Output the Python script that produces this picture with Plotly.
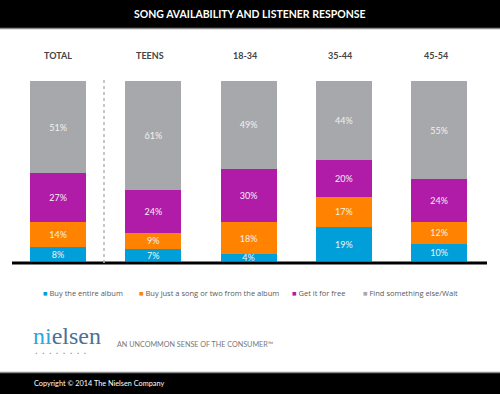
import plotly.graph_objects as go

categories = ["TOTAL", "TEENS", "18-34", "35-44", "45-54"]
buy_album = [8, 7, 4, 19, 10]
buy_song = [14, 9, 18, 17, 12]
get_free = [27, 24, 30, 20, 24]
find_else = [51, 61, 49, 44, 55]

series_names = ["Buy the entire album", "Buy just a song or two from the album",
                "Get it for free", "Find something else/Wait"]
series_values = [buy_album, buy_song, get_free, find_else]
colors = ["#009fd9", "#ff8300", "#b01ba8", "#a7a8ab"]

title = "SONG AVAILABILITY AND LISTENER RESPONSE"

W, H = 500, 394


def py(px):
    return (H - px) / H


fig = go.Figure()
for name, vals, col in zip(series_names, series_values, colors):
    fig.add_trace(go.Bar(
        x=categories, y=vals, name=name,
        marker=dict(color=col, line=dict(width=0)),
        width=0.588,
        text=[f"{v}%" for v in vals],
        textposition="inside", insidetextanchor="middle",
        constraintext="none",
        textfont=dict(family="Lato", size=9, color="#f2f2f2"),
        showlegend=False, hoverinfo="skip",
    ))

shapes = [
    # title bar
    dict(type="rect", xref="paper", yref="paper", x0=0, x1=1, y0=py(28), y1=1,
         fillcolor="#000000", line=dict(width=0), layer="below"),
    dict(type="line", xref="paper", yref="paper", x0=0, x1=1, y0=py(28.5), y1=py(28.5),
         line=dict(color="#8a8a8a", width=1.5)),
    # footer bar
    dict(type="rect", xref="paper", yref="paper", x0=0, x1=1, y0=0, y1=py(372.5),
         fillcolor="#000000", line=dict(width=0), layer="below"),
    dict(type="line", xref="paper", yref="paper", x0=0, x1=1, y0=py(372.5), y1=py(372.5),
         line=dict(color="#8a8a8a", width=1.5)),
    # baseline
    dict(type="line", xref="paper", yref="paper", x0=12 / W, x1=487 / W, y0=py(263), y1=py(263),
         line=dict(color="#000000", width=3)),
    # dotted separator
    dict(type="line", xref="paper", yref="paper", x0=104 / W, x1=104 / W, y0=py(263), y1=py(78),
         line=dict(color="#b5b5b5", width=1.5, dash="dot")),
]

annotations = [
    dict(text=f"<b>{title}</b>", xref="paper", yref="paper", x=0.5, y=py(14),
         showarrow=False, font=dict(family="Lato", size=10.5, color="#ffffff"),
         xanchor="center", yanchor="middle"),
]

label_centers = [58, 150, 244.5, 340, 436]
for cat, cx in zip(categories, label_centers):
    annotations.append(dict(text=f"<b>{cat}</b>", xref="paper", yref="paper", x=cx / W, y=py(55),
                            showarrow=False, font=dict(family="Lato", size=9, color="#444444"),
                            xanchor="center", yanchor="middle"))

legend_x = [41, 137, 290, 361]
for name, col, lx in zip(series_names, colors, legend_x):
    annotations.append(dict(
        text=f"<span style='color:{col}'>■</span> {name}",
        xref="paper", yref="paper", x=lx / W, y=py(293), showarrow=False,
        font=dict(family="Open Sans", size=7.5, color="#5a5a5a"),
        xanchor="left", yanchor="middle"))

annotations += [
    dict(text="<span style='color:#2aa6df'>ni</span>elsen",
         xref="paper", yref="paper", x=31 / W, y=py(336), showarrow=False,
         font=dict(family="Liberation Serif", size=24, color="#4a7197"),
         xanchor="left", yanchor="middle"),
    dict(text="•   •   •   •   •   •   •   •", xref="paper", yref="paper", x=33 / W, y=py(353),
         showarrow=False, font=dict(family="DejaVu Sans", size=4.5, color="#8f8f8f"),
         xanchor="left", yanchor="middle"),
    dict(text="AN UNCOMMON SENSE OF THE CONSUMER™", xref="paper", yref="paper", x=115 / W,
         y=py(344), showarrow=False, font=dict(family="Lato", size=7.2, color="#777777"),
         xanchor="left", yanchor="middle"),
    dict(text="Copyright © 2014 The Nielsen Company", xref="paper", yref="paper", x=32 / W,
         y=py(383), showarrow=False, font=dict(family="Lato", size=7.3, color="#ffffff"),
         xanchor="left", yanchor="middle"),
]

fig.update_layout(
    width=W, height=H,
    margin=dict(l=0, r=0, t=0, b=0),
    paper_bgcolor="#ffffff", plot_bgcolor="rgba(0,0,0,0)",
    barmode="stack", barnorm="percent",
    uniformtext=dict(mode="show", minsize=8),
    shapes=shapes, annotations=annotations,
    xaxis=dict(range=[-0.609, 4.640], showgrid=False, zeroline=False, showticklabels=False,
               showline=False, fixedrange=True),
    yaxis=dict(domain=[py(261.5), py(81)], range=[0, 100], showgrid=False, zeroline=False,
               showticklabels=False, showline=False, fixedrange=True),
)

fig.write_html(
    "out.html",
    config={"displayModeBar": False},
    post_script="document.body.style.margin='0';document.body.style.overflow='hidden';",
)
